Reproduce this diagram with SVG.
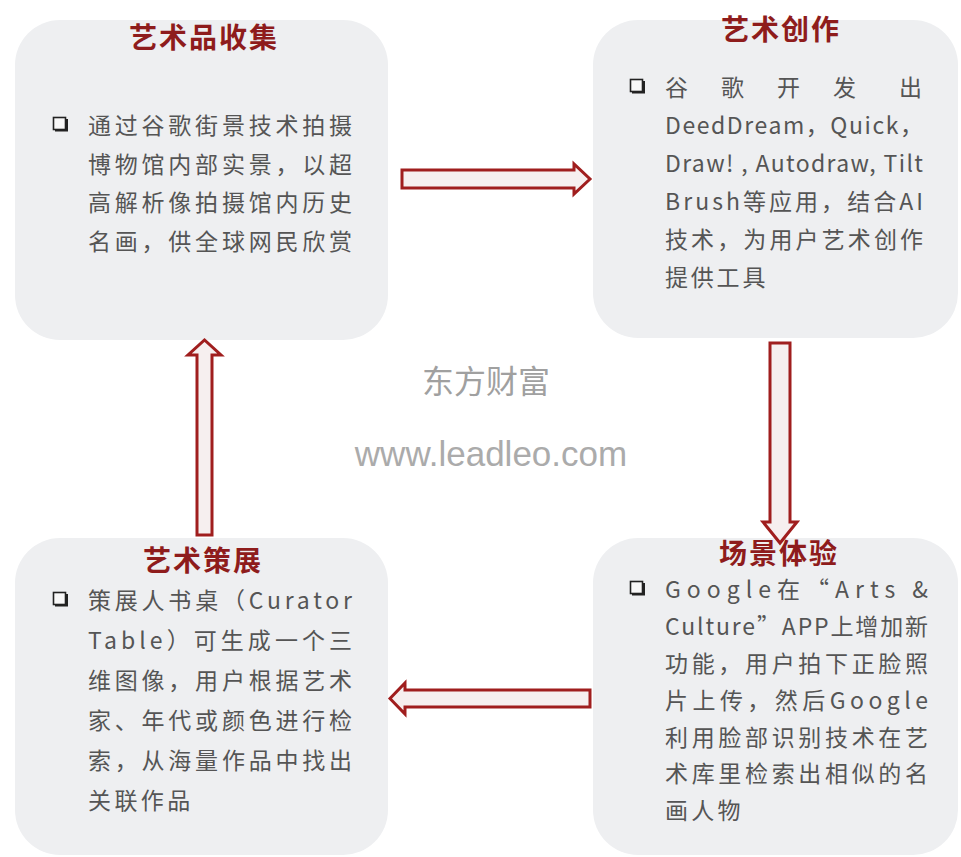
<svg xmlns="http://www.w3.org/2000/svg" width="961" height="857" viewBox="0 0 961 857">
<style>
.box{fill:#eeeff1;}
.title{font-family:"Noto Sans CJK SC","Noto Sans",sans-serif;font-size:28px;font-weight:bold;fill:#8e1c1c;text-anchor:middle;letter-spacing:2px;}
.body{font-family:"Noto Sans CJK SC","Noto Sans",sans-serif;font-size:23px;fill:#555;}
.arrow{fill:#f6efef;stroke:#a01e1e;stroke-width:3;stroke-linejoin:miter;}
.wm1{font-family:"Noto Sans CJK SC",sans-serif;font-size:32px;fill:#a0a0a0;text-anchor:middle;}
.wm2{font-family:"Liberation Sans",Arial,sans-serif;font-size:35px;fill:#ababab;text-anchor:middle;}
</style>
<defs>
<g id="bullet">
<rect x="1.5" y="1.5" width="12" height="12" fill="#f8f8f8" stroke="#222" stroke-width="1.6"/>
<path d="M3 14.5 H15 V3" fill="none" stroke="#222" stroke-width="2"/>
</g>
</defs>
<rect width="961" height="857" fill="#ffffff"/>

<g id="watermark">
<text class="wm1" x="486" y="393">东方财富</text>
<text class="wm2" x="491" y="466">www.leadleo.com</text>
</g>

<g id="node-collect">
<rect class="box" x="15" y="20" width="373" height="320" rx="45" ry="45"/>
<text class="title" x="204" y="48">艺术品收集</text>
<use href="#bullet" x="52" y="116"/>
<text class="body" x="88" y="134" textLength="264" lengthAdjust="spacing">通过谷歌街景技术拍摄</text>
<text class="body" x="88" y="172.5" textLength="264" lengthAdjust="spacing">博物馆内部实景，以超</text>
<text class="body" x="88" y="211" textLength="264" lengthAdjust="spacing">高解析像拍摄馆内历史</text>
<text class="body" x="88" y="249.5" textLength="264" lengthAdjust="spacing">名画，供全球网民欣赏</text>
</g>

<g id="node-create">
<rect class="box" x="593" y="20" width="365" height="318" rx="45" ry="45"/>
<text class="title" x="781" y="40">艺术创作</text>
<use href="#bullet" x="629" y="78"/>
<text class="body" x="665 721 777 833 899" y="96">谷歌开发出</text>
<text class="body" x="665" y="134" textLength="258" lengthAdjust="spacing">DeedDream，Quick，</text>
<text class="body" x="665" y="172" textLength="258" lengthAdjust="spacing">Draw! , Autodraw, Tilt</text>
<text class="body" x="665" y="210" textLength="258" lengthAdjust="spacing">Brush等应用，结合AI</text>
<text class="body" x="665" y="248" textLength="258" lengthAdjust="spacing">技术，为用户艺术创作</text>
<text class="body" x="665" y="286" letter-spacing="2.8">提供工具</text>
</g>

<g id="node-scene">
<rect class="box" x="593" y="538" width="365" height="317" rx="45" ry="45"/>
<text class="title" x="779" y="564">场景体验</text>
<use href="#bullet" x="629" y="580"/>
<text class="body" x="665" y="598" textLength="263" lengthAdjust="spacing">Google在“Arts &amp;</text>
<text class="body" x="665" y="635" textLength="263" lengthAdjust="spacing">Culture”APP上增加新</text>
<text class="body" x="665" y="672" textLength="263" lengthAdjust="spacing">功能，用户拍下正脸照</text>
<text class="body" x="665" y="709" textLength="263" lengthAdjust="spacing">片上传，然后Google</text>
<text class="body" x="665" y="746" textLength="263" lengthAdjust="spacing">利用脸部识别技术在艺</text>
<text class="body" x="665" y="782" textLength="263" lengthAdjust="spacing">术库里检索出相似的名</text>
<text class="body" x="665" y="819" letter-spacing="3.3">画人物</text>
</g>

<g id="node-curate">
<rect class="box" x="15" y="538" width="373" height="317" rx="45" ry="45"/>
<text class="title" x="203" y="571">艺术策展</text>
<use href="#bullet" x="52" y="591"/>
<text class="body" x="88" y="609" textLength="264" lengthAdjust="spacing">策展人书桌（Curator</text>
<text class="body" x="88" y="649" textLength="264" lengthAdjust="spacing">Table）可生成一个三</text>
<text class="body" x="88" y="689" textLength="264" lengthAdjust="spacing">维图像，用户根据艺术</text>
<text class="body" x="88" y="729" textLength="264" lengthAdjust="spacing">家、年代或颜色进行检</text>
<text class="body" x="88" y="769" textLength="264" lengthAdjust="spacing">索，从海量作品中找出</text>
<text class="body" x="88" y="809" letter-spacing="3.4">关联作品</text>
</g>

<g id="connectors">
<polygon class="arrow" points="402,170 574,170 574,164 590,179 574,194 574,188 402,188"/>
<polygon class="arrow" points="770,343 790,343 790,522 797,522 780,543 763,522 770,522"/>
<polygon class="arrow" points="590,690 590,707 405,707 405,714 390,698.5 405,683 405,690"/>
<polygon class="arrow" points="197,535 212,535 212,355 221,355 204.5,340 188,355 197,355"/>
</g>
</svg>
